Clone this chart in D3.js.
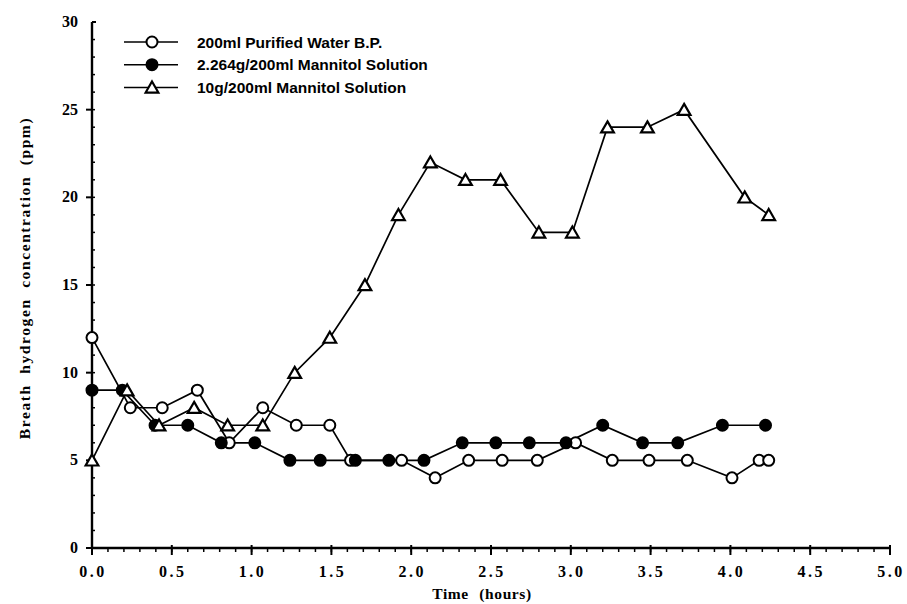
<!DOCTYPE html>
<html>
<head>
<meta charset="utf-8">
<script src="https://cdn.jsdelivr.net/npm/d3@7"></script>
<style>
  body { margin: 0; background: #fff; }
  svg { display: block; }
  .tick-label { font-family: "Liberation Serif", "Times New Roman", serif; font-weight: bold; font-size: 16px; }
  .axis-title { font-family: "Liberation Serif", "Times New Roman", serif; font-weight: bold; font-size: 15.5px; }
  .legend-text { font-family: "Liberation Sans", Arial, sans-serif; font-weight: bold; font-size: 15.5px; }
</style>
</head>
<body>
<script>
// Time (hours) and breath hydrogen (ppm)
const waterTime = [0, 0.24, 0.44, 0.66, 0.86, 1.07, 1.28, 1.49, 1.62, 1.94, 2.15, 2.36, 2.57, 2.79, 3.03, 3.26, 3.49, 3.73, 4.01, 4.18, 4.24];
const waterPpm  = [12, 8, 8, 9, 6, 8, 7, 7, 5, 5, 4, 5, 5, 5, 6, 5, 5, 5, 4, 5, 5];

const lowTime = [0, 0.19, 0.395, 0.6, 0.81, 1.02, 1.24, 1.43, 1.65, 1.86, 2.08, 2.32, 2.53, 2.74, 2.97, 3.2, 3.45, 3.67, 3.95, 4.22];
const lowPpm  = [9, 9, 7, 7, 6, 6, 5, 5, 5, 5, 5, 6, 6, 6, 6, 7, 6, 6, 7, 7];

const highTime = [0, 0.22, 0.42, 0.64, 0.85, 1.07, 1.27, 1.49, 1.71, 1.92, 2.12, 2.34, 2.56, 2.8, 3.01, 3.23, 3.48, 3.71, 4.09, 4.24];
const highPpm  = [5, 9, 7, 8, 7, 7, 10, 12, 15, 19, 22, 21, 21, 18, 18, 24, 24, 25, 20, 19];

const legendLabels = ["200ml Purified Water B.P.", "2.264g/200ml Mannitol Solution", "10g/200ml Mannitol Solution"];
const xTicks = [0, 0.5, 1, 1.5, 2, 2.5, 3, 3.5, 4, 4.5, 5];
const yTicks = [0, 5, 10, 15, 20, 25, 30];

const width = 907, height = 604;

const svg = d3.select("body").append("svg")
  .attr("width", width)
  .attr("height", height);

const x = d3.scaleLinear().domain([0, 5]).range([92, 890]);
const y = d3.scaleLinear().domain([0, 30]).range([548, 22]);

const ink = "#000";

// axes lines
svg.append("line")
  .attr("x1", x(0)).attr("x2", x(0))
  .attr("y1", y(0)).attr("y2", y(30))
  .attr("stroke", ink).attr("stroke-width", 2.4);
svg.append("line")
  .attr("x1", x(0)).attr("x2", x(5))
  .attr("y1", y(0)).attr("y2", y(0))
  .attr("stroke", ink).attr("stroke-width", 2.4);

// y minor ticks (inward) and major ticks (outward)
svg.append("g").selectAll("line")
  .data(d3.range(1, 30))
  .join("line")
  .attr("x1", x(0)).attr("x2", x(0) + 3)
  .attr("y1", d => y(d)).attr("y2", d => y(d))
  .attr("stroke", ink).attr("stroke-width", 1.5);
svg.append("g").selectAll("line")
  .data(yTicks)
  .join("line")
  .attr("x1", d => d === 30 ? x(0) + 4 : x(0) - 6).attr("x2", x(0))
  .attr("y1", d => y(d)).attr("y2", d => y(d))
  .attr("stroke", ink).attr("stroke-width", 2);
svg.append("g").selectAll("text")
  .data(yTicks)
  .join("text")
  .attr("class", "tick-label")
  .attr("x", x(0) - 14)
  .attr("y", d => y(d) + 5)
  .attr("text-anchor", "end")
  .text(d => d);

// x minor and major ticks
svg.append("g").selectAll("line")
  .data(d3.range(1, 50).map(d => d / 10))
  .join("line")
  .attr("x1", d => x(d)).attr("x2", d => x(d))
  .attr("y1", y(0)).attr("y2", y(0) + 4)
  .attr("stroke", ink).attr("stroke-width", 1.5);
svg.append("g").selectAll("line")
  .data(xTicks)
  .join("line")
  .attr("x1", d => x(d)).attr("x2", d => x(d))
  .attr("y1", y(0) - 3).attr("y2", y(0) + 7)
  .attr("stroke", ink).attr("stroke-width", 2);
svg.append("g").selectAll("text")
  .data(xTicks)
  .join("text")
  .attr("class", "tick-label")
  .attr("x", d => x(d) + 1)
  .attr("y", 577)
  .attr("text-anchor", "middle")
  .attr("letter-spacing", "2.5px")
  .text(d => d.toFixed(1));

// axis titles
svg.append("text")
  .attr("class", "axis-title")
  .attr("x", 482).attr("y", 599)
  .attr("text-anchor", "middle")
  .attr("letter-spacing", "0.6px")
  .attr("word-spacing", "6px")
  .text("Time (hours)");
svg.append("text")
  .attr("class", "axis-title")
  .attr("transform", "translate(30,278) rotate(-90)")
  .attr("text-anchor", "middle")
  .attr("letter-spacing", "1.6px")
  .attr("word-spacing", "5px")
  .text("Breath hydrogen concentration (ppm)");

// series
const series = [
  { time: waterTime, ppm: waterPpm, marker: "open" },
  { time: lowTime, ppm: lowPpm, marker: "filled" },
  { time: highTime, ppm: highPpm, marker: "triangle" }
];

const line = d3.line().x(d => x(d[0])).y(d => y(d[1]));
const triangle = d3.symbol().type(d3.symbolTriangle).size(70);

function drawMarker(g, kind) {
  if (kind === "triangle") {
    g.append("path")
      .attr("d", triangle())
      .attr("transform", "translate(0,1.5)")
      .attr("fill", "#fff").attr("stroke", ink).attr("stroke-width", 2.2);
  } else {
    g.append("circle")
      .attr("r", 5.5)
      .attr("fill", kind === "filled" ? ink : "#fff")
      .attr("stroke", ink).attr("stroke-width", 2);
  }
}

series.forEach(s => {
  const pts = s.time.map((t, i) => [t, s.ppm[i]]);
  svg.append("path")
    .attr("d", line(pts))
    .attr("fill", "none")
    .attr("stroke", ink)
    .attr("stroke-width", 1.7);
});
series.forEach(s => {
  const pts = s.time.map((t, i) => [t, s.ppm[i]]);
  svg.append("g").selectAll("g")
    .data(pts)
    .join("g")
    .attr("transform", d => `translate(${x(d[0])},${y(d[1])})`)
    .each(function () { drawMarker(d3.select(this), s.marker); });
});

// legend
const legend = svg.append("g");
legendLabels.forEach((label, i) => {
  const ly = 42 + i * 22.7;
  legend.append("line")
    .attr("x1", 124).attr("x2", 178)
    .attr("y1", ly).attr("y2", ly)
    .attr("stroke", ink).attr("stroke-width", 1.5);
  const m = legend.append("g").attr("transform", `translate(152,${ly})`);
  drawMarker(m, series[i].marker);
  legend.append("text")
    .attr("class", "legend-text")
    .attr("x", 197).attr("y", ly + 5.5)
    .text(label);
});
</script>
</body>
</html>
